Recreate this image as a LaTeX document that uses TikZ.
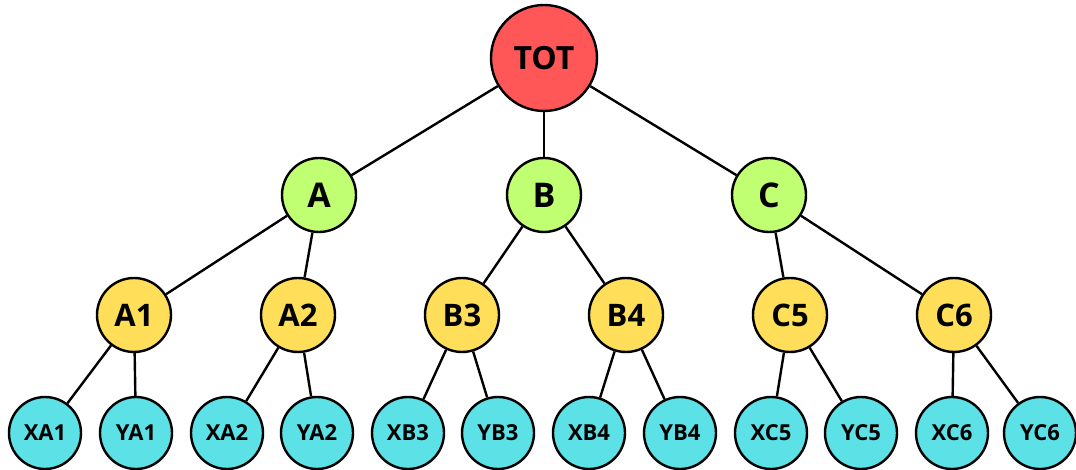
\documentclass[tikz,border=0pt]{standalone}
\usepackage{fontspec}
\setmainfont{Open Sans}
\definecolor{rootred}{HTML}{FF5757}
\definecolor{midgreen}{HTML}{C1FF72}
\definecolor{lowyellow}{HTML}{FFDE59}
\definecolor{leafcyan}{HTML}{5CE1E6}
\begin{document}
\begin{tikzpicture}[x=1pt,y=-1pt,
  nd/.style={circle,draw=black,line width=2.4pt,inner sep=0pt,font=\bfseries},
  rootnd/.style={nd,fill=rootred,minimum size=106pt,font=\bfseries\fontsize{32}{32}\selectfont},
  midnd/.style={nd,fill=midgreen,minimum size=74pt,font=\bfseries\fontsize{34}{34}\selectfont},
  lownd/.style={nd,fill=lowyellow,minimum size=74pt,font=\bfseries\fontsize{31}{31}\selectfont},
  leafnd/.style={nd,fill=leafcyan,minimum size=72pt,font=\bfseries\fontsize{22}{22}\selectfont},
  link/.style={line width=2.4pt,draw=black}]
\useasboundingbox (0,0) rectangle (1076,470);
% root
\node[rootnd] (tot) at (544,58) {TOT};
% second level
\node[midnd] (a) at (319,195) {A};
\node[midnd] (b) at (544,195) {B};
\node[midnd] (c) at (769,195) {C};
% third level
\node[lownd] (a1) at (134,315) {A1};
\node[lownd] (a2) at (298,315) {A2};
\node[lownd] (b3) at (462,315) {B3};
\node[lownd] (b4) at (626,315) {B4};
\node[lownd] (c5) at (790,315) {C5};
\node[lownd] (c6) at (954,315) {C6};
% leaves
\node[leafnd] (xa1) at (45,433) {XA1};
\node[leafnd] (ya1) at (136,433) {YA1};
\node[leafnd] (xa2) at (227,433) {XA2};
\node[leafnd] (ya2) at (317,433) {YA2};
\node[leafnd] (xb3) at (408,433) {XB3};
\node[leafnd] (yb3) at (498,433) {YB3};
\node[leafnd] (xb4) at (589,433) {XB4};
\node[leafnd] (yb4) at (680,433) {YB4};
\node[leafnd] (xc5) at (771,433) {XC5};
\node[leafnd] (yc5) at (861,433) {YC5};
\node[leafnd] (xc6) at (952,433) {XC6};
\node[leafnd] (yc6) at (1040,433) {YC6};
% connectors
\foreach \p/\q in {tot/a,tot/b,tot/c,a/a1,a/a2,b/b3,b/b4,c/c5,c/c6,
  a1/xa1,a1/ya1,a2/xa2,a2/ya2,b3/xb3,b3/yb3,b4/xb4,b4/yb4,c5/xc5,c5/yc5,c6/xc6,c6/yc6}
  \draw[link] (\p) -- (\q);
\end{tikzpicture}
\end{document}
